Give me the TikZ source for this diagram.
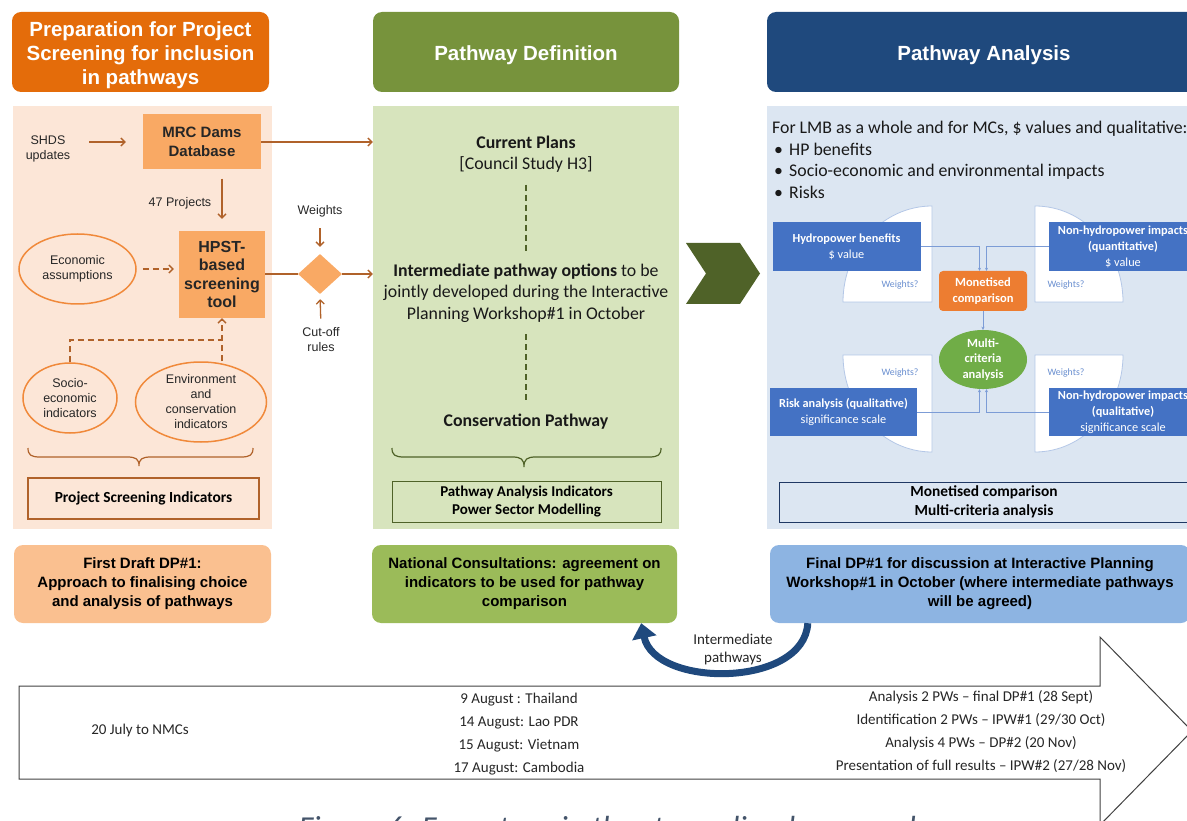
\documentclass[tikz,border=0pt]{standalone}
\usepackage{fontspec}
\setmainfont{Liberation Sans}
\newfontfamily\carl{Carlito}
\usetikzlibrary{arrows.meta,shapes.geometric}
\definecolor{hOrange}{HTML}{E46C0A}
\definecolor{hGreen}{HTML}{77933C}
\definecolor{hBlue}{HTML}{1F497D}
\definecolor{pOrange}{HTML}{FCE6D7}
\definecolor{pGreen}{HTML}{D7E4BD}
\definecolor{pBlue}{HTML}{DCE6F2}
\definecolor{brn}{HTML}{B0622A}
\definecolor{boxOr}{HTML}{F9A964}
\definecolor{ellOr}{HTML}{F0893A}
\definecolor{dGreen}{HTML}{4F6228}
\definecolor{bBlue}{HTML}{4472C4}
\definecolor{mOrange}{HTML}{ED7D31}
\definecolor{mGreen}{HTML}{70AD47}
\definecolor{qLine}{HTML}{B4C7E7}
\definecolor{wBlue}{HTML}{6A8FD0}
\definecolor{navy}{HTML}{1F3864}
\definecolor{bxA}{HTML}{FAC090}
\definecolor{bxB}{HTML}{9BBB59}
\definecolor{bxC}{HTML}{8DB4E2}
\definecolor{txt}{HTML}{262626}
\definecolor{capc}{HTML}{44546A}
\begin{document}
\begin{tikzpicture}[x=1pt,y=-1pt,
  hdr/.style={rounded corners=9pt, inner sep=0pt, minimum height=80pt},
  hdrt/.style={text=white, font=\fontsize{20.5}{24}\selectfont\bfseries, align=center, inner sep=0pt},
  panel/.style={inner sep=0pt, minimum height=423pt},
  ltxt/.style={font=\fontsize{12.5}{15}\selectfont, text=txt, align=center, inner sep=0pt},
  obox/.style={fill=boxOr, inner sep=0pt, align=center, text=black!85},
  oell/.style={ellipse, draw=ellOr, line width=1.5pt, inner sep=0pt, align=center, font=\fontsize{12.5}{15}\selectfont, text=txt},
  arr/.style={draw=brn, line width=1.3pt, -{Straight Barb[length=4pt,width=8pt]}},
  brline/.style={draw=brn, line width=1.3pt},
  brdash/.style={draw=brn, line width=1.3pt, dash pattern=on 6pt off 4pt},
  gdash/.style={draw=dGreen, line width=1.2pt, dash pattern=on 6pt off 4pt},
  ctxt/.style={font=\carl\fontsize{17.8}{21.5}\selectfont, align=center, inner sep=0pt, text=black!90},
  rtxt/.style={font=\carl\fontsize{17.8}{21.5}\selectfont, inner sep=0pt, text=black!90},
  bbox/.style={fill=bBlue, text=white, inner sep=0pt, align=center, font=\carl\fontsize{12.3}{16}\selectfont},
  qshape/.style={fill=white, draw=qLine, line width=0.8pt},
  wtxt/.style={font=\carl\fontsize{9.8}{11}\selectfont, text=wBlue, inner sep=0pt},
  bl/.style={draw=bBlue!70, line width=0.6pt, -{Stealth[length=3pt,width=3pt]}},
  btm/.style={rounded corners=9pt, inner sep=0pt, align=center, font=\fontsize{15}{19}\selectfont\bfseries, minimum height=78pt},
  tl/.style={font=\carl\fontsize{15}{23}\selectfont, text=txt, align=center, inner sep=0pt}
]
\useasboundingbox (0,0) rectangle (1187,821);
\clip (0,0) rectangle (1187,821);

% headers
\node[hdr, fill=hOrange, minimum width=257pt] (h1) at (140.5,52) {};
\node[hdrt] (h1t) at (140.5,55) {Preparation for Project\\Screening for inclusion\\in pathways};
\node[hdr, fill=hGreen, minimum width=306pt] (h2) at (526,52) {};
\node[hdrt] (h2t) at (526,55) {Pathway Definition};
\node[hdr, fill=hBlue, minimum width=434pt] (h3) at (984,52) {};
\node[hdrt] (h3t) at (984,55) {Pathway Analysis};

% panels
\node[panel, fill=pOrange, minimum width=259pt] (p1) at (142.5,317.5) {};
\node[panel, fill=pGreen, minimum width=306pt] (p2) at (526,317.5) {};
\node[panel, fill=pBlue, minimum width=434pt] (p3) at (984,317.5) {};

% ---- left panel
\node[ltxt] (shds) at (48,149) {SHDS\\updates};
\node[obox, minimum width=118pt, minimum height=55pt, font=\fontsize{15}{19}\selectfont\bfseries] (mrc) at (202,142) {MRC Dams\\Database};
\draw[arr, shorten <=19pt, shorten >=17pt] (shds.east |- mrc.west) -- (mrc.west);
\draw[arr] (mrc.east) -- (mrc.east -| p2.west);
\node[obox, minimum width=86pt, minimum height=87pt, font=\fontsize{16}{18.5}\selectfont\bfseries] (hpst) at (222,274.5) {HPST-\\based\\screening\\tool};
\draw[arr, shorten <=9pt, shorten >=12pt] (hpst.north |- mrc.south) -- (hpst.north);
\node[ltxt] (p47) at (180,203) {47 Projects};
\node[oell, minimum width=117pt, minimum height=70pt] (econ) at (77.5,269) {Economic\\assumptions};
\draw[brdash, -{Straight Barb[length=4pt,width=8pt]}, shorten <=6pt, shorten >=5pt] (econ.east) -- (econ.east -| hpst.west);
\node[diamond, fill=boxOr, minimum width=44pt, minimum height=40pt, inner sep=0pt] (dia) at (320,274) {};
\draw[brline] (hpst.east |- dia) -- (dia.west);
\draw[arr] (dia.east) -- (dia.east -| p2.west);
\node[ltxt] (wgt) at (320,211) {Weights};
\draw[arr, shorten <=11pt, shorten >=7pt] (wgt.south) -- (dia.north);
\node[ltxt] (cut) at (321,340) {Cut-off\\rules};
\draw[arr, shorten <=9pt, shorten >=5pt] (cut.north) -- (dia.south);
\node[oell, minimum width=94pt, minimum height=70pt] (socio) at (70,398) {Socio-\\economic\\indicators};
\node[oell, minimum width=131pt, minimum height=80pt] (env) at (201,402) {Environment\\and\\conservation\\indicators};
\coordinate (jn) at (222,340);
\draw[brdash] (socio.north) |- (jn);
\draw[brdash, -{Straight Barb[length=4pt,width=8pt]}] (jn |- env.north) -- (jn) -- (jn |- hpst.south);
\draw[brline, line width=1.2pt] (28,448) .. controls (28,455) and (31,457) .. (40,457) -- (127,457) .. controls (136,457) and (139,459) .. (139,466) .. controls (139,459) and (142,457) .. (151,457) -- (241,457) .. controls (250,457) and (253,455) .. (253,448);
\node[draw=brn, line width=1.3pt, minimum width=231pt, minimum height=41pt, inner sep=0pt, font=\carl\fontsize{15.4}{16}\selectfont\bfseries] (psi) at (143.5,498.5) {Project Screening Indicators};

% ---- middle panel
\node[ctxt] (cp) at (526,154) {\textbf{Current Plans}\\{[}Council Study H3{]}};
\node[ctxt] (ipo) at (526,293) {\textbf{Intermediate pathway options} to be\\jointly developed during the Interactive\\Planning Workshop\#1 in October};
\node[ctxt, font=\carl\fontsize{17.8}{20}\selectfont\bfseries] (cons) at (526,422) {Conservation Pathway};
\draw[gdash, shorten <=12pt, shorten >=9pt] (cp.south) -- (ipo.north);
\draw[gdash, shorten <=12pt, shorten >=12pt] (ipo.south) -- (cons.north);
\draw[dGreen, line width=1.2pt] (392,448) .. controls (392,455) and (395,457) .. (404,457) -- (512,457) .. controls (521,457) and (524,459) .. (524,467) .. controls (524,459) and (527,457) .. (536,457) -- (649,457) .. controls (658,457) and (661,455) .. (661,448);
\node[draw=dGreen, line width=1pt, minimum width=269pt, minimum height=41pt, inner sep=0pt, align=center, font=\carl\fontsize{15}{18}\selectfont\bfseries] (pai) at (526.5,501.5) {Pathway Analysis Indicators\\Power Sector Modelling};

% chevron
\fill[dGreen] (686,243) -- (740,243) -- (760,273.5) -- (740,304) -- (686,304) -- (706,273.5) -- cycle;

% ---- right panel
\node[rtxt, anchor=base west] (r0) at (772,134) {For LMB as a whole and for MCs, \$ values and qualitative:};
\node[rtxt, anchor=base west] (r1b) at (774,156) {\textbullet};
\node[rtxt, anchor=base west] (r1) at (789,156) {HP benefits};
\node[rtxt, anchor=base west] (r2b) at (774,177) {\textbullet};
\node[rtxt, anchor=base west] (r2) at (789,177) {Socio-economic and environmental impacts};
\node[rtxt, anchor=base west] (r3b) at (774,199) {\textbullet};
\node[rtxt, anchor=base west] (r3) at (789,199) {Risks};

\draw[qshape] (932,206) .. controls (883,206) and (843,249) .. (843,302) -- (932,302) -- cycle;
\draw[qshape] (1035,206) .. controls (1084,206) and (1123,249) .. (1123,302) -- (1035,302) -- cycle;
\draw[qshape] (843,355) -- (932,355) -- (932,452) .. controls (883,452) and (843,408) .. (843,355) -- cycle;
\draw[qshape] (1035,355) -- (1123,355) .. controls (1123,408) and (1084,452) .. (1035,452) -- cycle;
\node[wtxt] (w1) at (900,285) {Weights?};
\node[wtxt] (w2) at (1066,285) {Weights?};
\node[wtxt] (w3) at (900,373) {Weights?};
\node[wtxt] (w4) at (1066,373) {Weights?};

\node[bbox, minimum width=148pt, minimum height=49pt] (hyd) at (846.5,246.5) {\textbf{Hydropower benefits}\\\$ value};
\node[bbox, minimum width=148pt, minimum height=49pt] (nhq) at (1123,246.5) {\textbf{Non-hydropower impacts}\\\textbf{(quantitative)}\\\$ value};
\node[bbox, minimum width=147pt, minimum height=48pt] (risk) at (843.5,412) {\textbf{Risk analysis (qualitative)}\\significance scale};
\node[bbox, minimum width=148pt, minimum height=48pt] (nhl) at (1123,412) {\textbf{Non-hydropower impacts}\\\textbf{(qualitative)}\\significance scale};
\node[fill=mOrange, rounded corners=4pt, text=white, inner sep=0pt, align=center, minimum width=88pt, minimum height=40pt, font=\carl\fontsize{12.5}{15.5}\selectfont\bfseries] (mon) at (983,291) {Monetised\\comparison};
\node[ellipse, fill=mGreen, text=white, inner sep=0pt, align=center, minimum width=88pt, minimum height=56pt, font=\carl\fontsize{12.5}{15.5}\selectfont\bfseries] (mca) at (983,359.5) {Multi-\\criteria\\analysis};
\draw[bl] (hyd.east) -| ([xshift=-3.5pt]mon.north);
\draw[bl] (nhq.west) -| ([xshift=3.5pt]mon.north);
\draw[bl] (mon.south) -- (mca.north);
\draw[bl] (risk.east) -| ([xshift=-3.5pt]mca.south);
\draw[bl] (nhl.west) -| ([xshift=3.5pt]mca.south);
\node[draw=navy, line width=1pt, minimum width=410pt, minimum height=40pt, inner sep=0pt, align=center, font=\carl\fontsize{15.4}{19}\selectfont\bfseries] (mma) at (984,502) {Monetised comparison\\Multi-criteria analysis};

% ---- bottom boxes
\node[btm, fill=bxA, minimum width=257pt] (b1) at (142.5,584) {First Draft DP\#1:\\Approach to finalising choice\\and analysis of pathways};
\node[btm, fill=bxB, minimum width=305pt] (b2) at (524.5,584) {National Consultations: agreement on\\indicators to be used for pathway\\comparison};
\node[btm, fill=bxC, minimum width=420pt] (b3) at (980,584) {Final DP\#1 for discussion at Interactive Planning\\Workshop\#1 in October (where intermediate pathways\\will be agreed)};

\coordinate (ca) at ([xshift=38pt]b3.south west);
\coordinate (cb) at ([xshift=-36pt]b2.south east);
\draw[hBlue, line width=7pt, -{Triangle[length=15pt,width=24pt]}] (ca) .. controls (804,688) and (655,688) .. (cb);
\node[font=\carl\fontsize{15}{18}\selectfont, text=txt, align=center, inner sep=0pt] (ip) at (733,649) {Intermediate\\pathways};

% ---- timeline
\draw[draw=black!75, line width=1pt] (19,686) -- (1100,686) -- (1100,637) -- (1192,731) -- (1100,825) -- (1100,779) -- (19,779) -- cycle;
\node[tl] (t1) at (140,730) {20 July to NMCs};
\node[tl] (t2) at (519,734.5) {9 August : Thailand\\14 August: Lao PDR\\15 August: Vietnam\\17 August: Cambodia};
\node[tl] (t3) at (981,732) {Analysis 2 PWs – final DP\#1 (28 Sept)\\Identification 2 PWs – IPW\#1 (29/30 Oct)\\Analysis 4 PWs – DP\#2 (20 Nov)\\Presentation of full results – IPW\#2 (27/28 Nov)};

% caption (cut off)
\node[anchor=base, font=\carl\fontsize{32}{34}\selectfont\itshape, text=capc, inner sep=0pt] (capt) at (612,838) {Figure 6: Four steps in the streamlined approach};
\end{tikzpicture}
\end{document}
